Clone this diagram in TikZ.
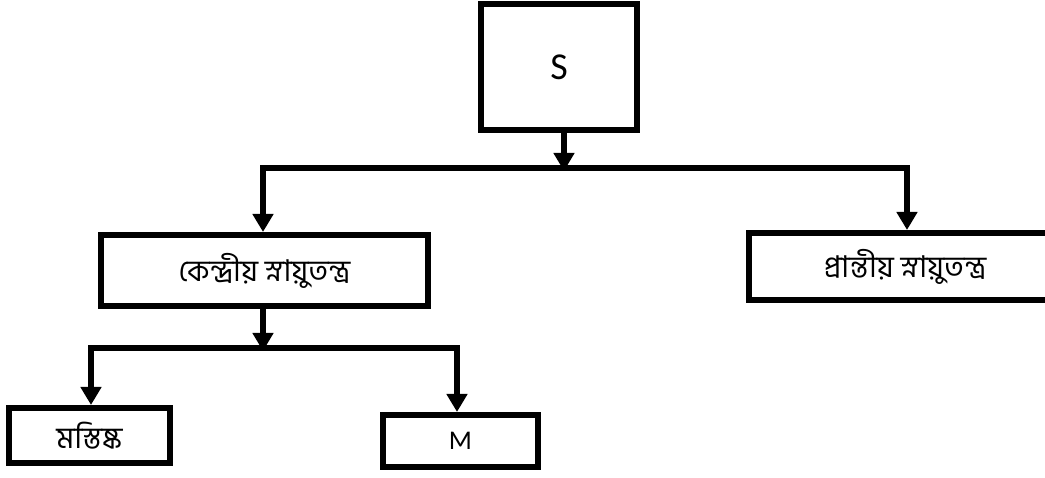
\documentclass[tikz,border=0pt]{standalone}
\usepackage{fontspec}
\setmainfont{Carlito}
\newfontfamily\bn[Script=Bengali]{Hind Siliguri}
\usetikzlibrary{arrows.meta}
\begin{document}
\begin{tikzpicture}[x=1pt,y=-1pt,
  boxst/.style={draw=black,line width=6pt,inner sep=0pt,fill=white},
  bntext/.style={font=\bn\fontsize{30}{30}\selectfont},
  conn/.style={line width=6pt,draw=black},
  arr/.style={conn,-{Triangle[width=20pt,length=18pt]}}]
\useasboundingbox (0,0) rectangle (1045,478);
\fill[white] (0,0) rectangle (1045,478);
\node[boxst,minimum width=156pt,minimum height=126pt,font=\fontsize{38}{38}\selectfont] (S) at (559,67) {S};
\node[boxst,bntext,minimum width=327pt,minimum height=71pt] (cns) at (264.5,270.5) {কেন্দ্রীয় স্নায়ুতন্ত্র};
\node[boxst,bntext,minimum width=312pt,minimum height=67pt] (pns) at (905,266.5) {প্রান্তীয় স্নায়ুতন্ত্র};
\node[boxst,bntext,minimum width=161pt,minimum height=55pt] (brain) at (89.5,435.5) {মস্তিষ্ক};
\node[boxst,minimum width=155pt,minimum height=52pt,font=\fontsize{27}{27}\selectfont] (M) at (460.5,441) {M};
\coordinate (h1) at (564,168);
\coordinate (h1l) at (263,168);
\coordinate (h1r) at (907,168);
\coordinate (h2) at (263,348);
\coordinate (h2l) at (91,348);
\coordinate (h2r) at (457,348);
\draw[arr,shorten >=-3pt] (h1 |- S.south) -- (h1);
\draw[conn,line cap=rect] (h1l) -- (h1r);
\draw[arr] (h1l) -- (h1l |- cns.north);
\draw[arr] (h1r) -- (h1r |- pns.north);
\draw[arr,shorten >=-3pt] (h2 |- cns.south) -- (h2);
\draw[conn,line cap=rect] (h2l) -- (h2r);
\draw[arr] (h2l) -- (h2l |- brain.north);
\draw[arr] (h2r) -- (h2r |- M.north);
\end{tikzpicture}
\end{document}
